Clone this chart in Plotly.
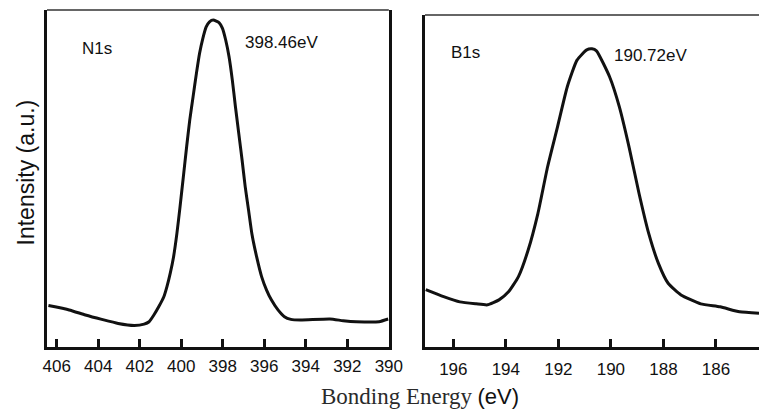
import plotly.graph_objects as go

# N1s core-level spectrum (binding energy in eV, intensity in arbitrary units)
n1s_energy = [406.40, 405.40, 404.62, 403.83, 403.04, 402.26, 401.79, 401.55, 401.32,
              401.08, 400.84, 400.69, 400.53, 400.37, 400.21, 400.06, 399.90, 399.74,
              399.59, 399.43, 399.27, 399.12, 398.96, 398.80, 398.64, 398.46, 398.17,
              398.02, 397.86, 397.70, 397.54, 397.39, 397.23, 397.07, 396.92, 396.76,
              396.60, 396.37, 396.13, 395.89, 395.66, 395.34, 395.03, 394.72, 394.26,
              392.84, 392.20, 391.57, 390.47, 390.03]
n1s_intensity = [12.3, 11.0, 9.5, 8.2, 7.0, 6.4, 6.8, 7.5, 9.5,
                 12.0, 14.9, 17.9, 21.9, 26.8, 33.7, 41.6, 50.5, 59.5,
                 67.4, 74.3, 81.2, 87.1, 91.6, 95.0, 96.5, 97.0, 96.2,
                 94.6, 91.1, 86.2, 79.2, 71.3, 63.4, 55.5, 47.6, 40.7,
                 33.7, 26.8, 20.9, 16.9, 14.0, 11.0, 9.0, 8.2, 8.0,
                 8.3, 7.8, 7.5, 7.5, 8.3]

# B1s core-level spectrum
b1s_energy = [197.05, 196.37, 195.75, 195.13, 194.70, 194.26, 193.89, 193.52, 193.15,
              192.78, 192.41, 192.03, 191.66, 191.29, 190.92, 190.72, 190.55, 190.05,
              189.68, 189.31, 188.93, 188.56, 188.19, 187.82, 187.33, 186.58, 185.84,
              185.10, 184.36]
b1s_intensity = [17.3, 15.2, 13.6, 13.0, 12.7, 14.2, 16.7, 21.2, 29.2,
                 40.2, 54.3, 66.4, 78.4, 86.4, 89.5, 89.8, 89.2, 81.4,
                 72.4, 60.3, 46.3, 34.2, 25.2, 19.2, 15.7, 13.0, 12.1,
                 10.6, 10.2]

n1s_ticks = [406, 404, 402, 400, 398, 396, 394, 392, 390]
b1s_ticks = [196, 194, 192, 190, 188, 186]

n1s_label = "N1s"
n1s_peak = "398.46eV"
b1s_label = "B1s"
b1s_peak = "190.72eV"
y_title = "Intensity (a.u.)"

W, H = 773, 410
SANS = "Arial, Liberation Sans, Helvetica, sans-serif"
SERIF = "Times New Roman, Liberation Serif, serif"


def px(x):
    return x / W


def py(y):
    return (H - y) / H


fig = go.Figure()

line_style = dict(color="#111111", width=3, shape="spline", smoothing=0.5)
fig.add_trace(go.Scatter(x=n1s_energy, y=n1s_intensity, mode="lines",
                         line=line_style, xaxis="x", yaxis="y", showlegend=False,
                         hoverinfo="skip"))
fig.add_trace(go.Scatter(x=b1s_energy, y=b1s_intensity, mode="lines",
                         line=line_style, xaxis="x2", yaxis="y2", showlegend=False,
                         hoverinfo="skip"))

xcommon = dict(ticks="inside", ticklen=8, tickwidth=2.5, tickcolor="#111111",
               showline=True, linewidth=2.5, linecolor="#111111", mirror=False,
               showgrid=False, zeroline=False,
               tickfont=dict(family=SANS, size=17, color="#111111"))
ycommon = dict(showticklabels=False, ticks="", showline=True, linewidth=3,
               linecolor="#111111", showgrid=False, zeroline=False)

fig.update_layout(
    width=W, height=H,
    margin=dict(l=0, r=0, t=0, b=0),
    paper_bgcolor="white", plot_bgcolor="white",
    xaxis=dict(domain=[px(44), px(394)], range=[406.47, 390.0],
               tickvals=n1s_ticks, ticktext=[str(t) for t in n1s_ticks],
               anchor="y", ticklabelstandoff=2, **xcommon),
    yaxis=dict(domain=[py(347), py(10)], range=[0, 100], anchor="x",
               mirror=True, **ycommon),
    xaxis2=dict(domain=[px(431), 1.0], range=[197.08, 184.36],
                tickvals=b1s_ticks, ticktext=[str(t) for t in b1s_ticks],
                anchor="y2", ticklabelstandoff=5, **xcommon),
    yaxis2=dict(domain=[py(347), py(15)], range=[0, 100], anchor="x2",
                mirror=False, **ycommon),
)

# thin top borders of both frames
for xr, yr in (("x domain", "y domain"), ("x2 domain", "y2 domain")):
    fig.add_shape(type="line", xref=xr, yref=yr, x0=0, x1=1, y0=1, y1=1,
                  line=dict(color="#333333", width=1.5))

text_font = dict(family=SANS, size=17, color="#111111")
for txt, x, y in ((n1s_label, 95, 48), (n1s_peak, 284, 43),
                  (b1s_label, 473, 52), (b1s_peak, 662, 55)):
    fig.add_annotation(text=txt, x=px(x), y=py(y), xref="paper", yref="paper",
                       showarrow=False, font=text_font,
                       xanchor="center", yanchor="middle")

fig.add_annotation(text=y_title, x=px(23), y=py(172), xref="paper", yref="paper",
                   showarrow=False, textangle=-90,
                   font=dict(family=SANS, size=23, color="#111111"),
                   xanchor="center", yanchor="middle")

fig.add_annotation(
    text=('<span style="font-family:Times New Roman, Liberation Serif, serif;'
          'font-size:23px;color:#2a2a2a">Bonding Energy</span> '
          '<span style="font-family:Arial, Liberation Sans, sans-serif">(eV)</span>'),
    x=px(426), y=py(396), xref="paper", yref="paper", showarrow=False,
    font=dict(family=SERIF, size=22, color="#111111"),
    xanchor="center", yanchor="middle")

fig.write_html("out.html")
